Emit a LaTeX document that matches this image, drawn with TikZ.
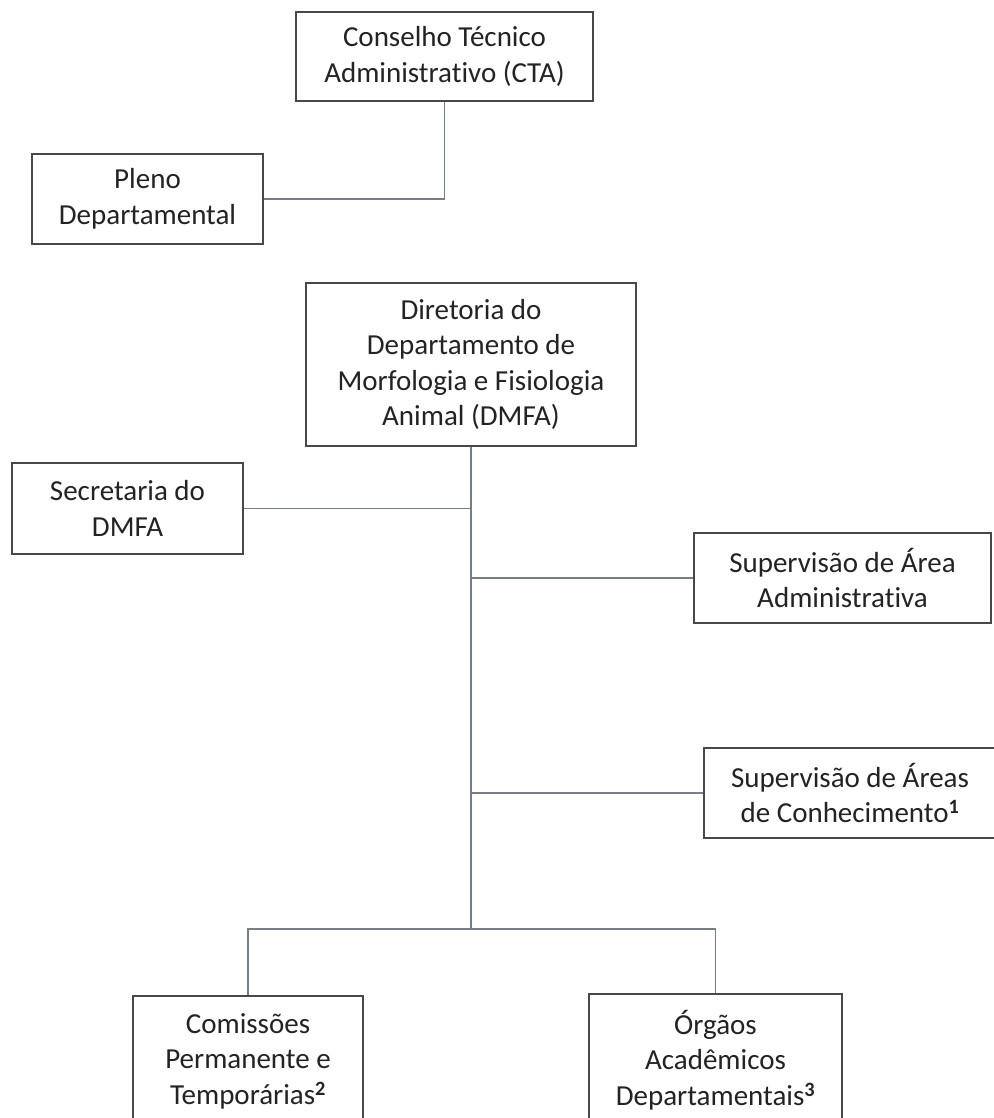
\documentclass[tikz,border=0pt]{standalone}
\usepackage{fontspec}
\setmainfont{Carlito}[Ligatures={NoCommon}]
\usepackage{tikz}
\definecolor{boxline}{RGB}{72,72,72}
\definecolor{linkline}{RGB}{118,126,136}
\definecolor{inkgray}{RGB}{35,35,35}
\newcommand{\notemark}[1]{\textsuperscript{\bfseries #1}}
\tikzset{
  unit/.style={draw=boxline, line width=1.4pt, inner sep=0pt, align=center, text=inkgray,
    font=\fontsize{29}{35.5}\selectfont},
  link/.style={draw=linkline, line width=1.8pt}
}

\begin{document}
\begin{tikzpicture}[x=1pt,y=-1pt]
    \path[use as bounding box, fill=white] (0,0) rectangle (993,1118);
    \node[unit, minimum width=297pt, minimum height=89pt] (CTA) at (444.5,56.5) {Conselho Técnico\\Administrativo (CTA)};
    \node[unit, minimum width=231pt, minimum height=90pt] (PL)  at (147.5,199)  {Pleno\\Departamental};
    \node[unit, minimum width=330pt, minimum height=163pt] (DMFA) at (471,364.5) {Diretoria do\\Departamento de\\Morfologia e Fisiologia\\Animal (DMFA)};
    \node[unit, minimum width=231pt, minimum height=91pt] (SEC) at (127.5,508.5) {Secretaria do\\DMFA};
    \node[unit, minimum width=297pt, minimum height=90pt] (SAA) at (842.5,578)  {Supervisão de Área\\Administrativa};
    \node[unit, minimum width=292pt, minimum height=90pt] (SAC) at (850,793)    {Supervisão de Áreas\\de Conhecimento\notemark{1}};
    \node[unit, minimum width=230pt, minimum height=130pt] (COM) at (248,1061)  {Comissões\\Permanente e\\Temporárias\notemark{2}};
    \node[unit, minimum width=253pt, minimum height=132pt] (ORG) at (715.5,1060) {Órgãos\\Acadêmicos\\Departamentais\notemark{3}};
    \coordinate (J) at (471,929);
    \draw[link] (CTA.south) |- (PL.east);
    \draw[link] (DMFA.south) -- (J);
    \draw[link] (SEC.east) -- (SEC.east -| J);
    \draw[link] (SAA.west) -- (SAA.west -| J);
    \draw[link] (SAC.west) -- (SAC.west -| J);
    \draw[link] (COM.north) |- (J) -| (ORG.north);
\end{tikzpicture}
\end{document}
